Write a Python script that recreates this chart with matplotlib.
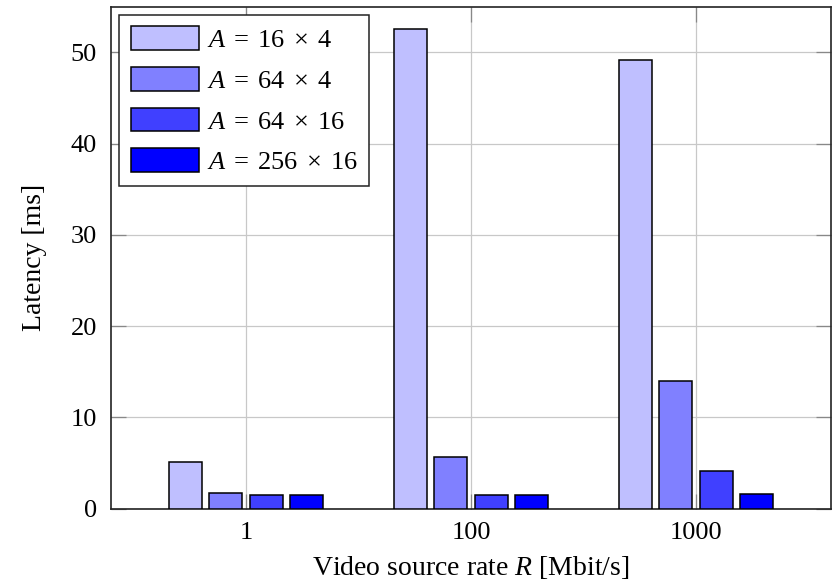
import numpy as np
import matplotlib
matplotlib.use("Agg")
import matplotlib.pyplot as plt

plt.rcParams['font.family'] = 'Liberation Serif'
plt.rcParams['mathtext.fontset'] = 'custom'
plt.rcParams['mathtext.rm'] = 'Liberation Serif'
plt.rcParams['mathtext.it'] = 'Liberation Serif:italic'

# source rates on the x axis
rates = ['1', '100', '1000']

# latency per array size, one list per series
series_labels = [r'$A \;=\; 16 \;\times\; 4\quad$', r'$A \;=\; 64 \;\times\; 4\quad$',
                 r'$A \;=\; 64 \;\times\; 16\quad$', r'$A \;=\; 256 \;\times\; 16\quad$']
lat_16x4 = [5.05, 52.5, 49.2]
lat_64x4 = [1.75, 5.6, 14.0]
lat_64x16 = [1.52, 1.52, 4.15]
lat_256x16 = [1.52, 1.5, 1.58]
latencies = [lat_16x4, lat_64x4, lat_64x16, lat_256x16]

colors = ['#bfbfff', '#8080ff', '#4040ff', '#0000ff']

fig = plt.figure(figsize=(8.37, 5.87), dpi=100)
ax = fig.add_axes([0.1326, 0.1337, 0.8602, 0.855])

x = np.arange(len(rates))
bar_w = 0.147
step = 0.18
offsets = (np.arange(4) - 1.5) * step

for i in range(4):
    ax.bar(x + offsets[i], latencies[i], width=bar_w, color=colors[i],
           edgecolor='black', linewidth=1.1, label=series_labels[i], zorder=3)

ax.set_xlim(-0.6, 2.6)
ax.set_ylim(0, 55)
ax.set_xticks(x)
ax.set_xticklabels(rates)
ax.set_yticks([0, 10, 20, 30, 40, 50])

ax.grid(True, color='#c8c8c8', linewidth=0.9, zorder=0)
ax.set_axisbelow(True)
ax.tick_params(direction='in', length=11, width=0.9, color='#888888',
               labelsize=19, top=True, right=True, pad=10)

for s in ax.spines.values():
    s.set_color('#222222')
    s.set_linewidth(1.2)

ax.set_xlabel(r'Video source rate $R$ [Mbit/s]', fontsize=20, labelpad=7)
ax.set_ylabel('Latency [ms]', fontsize=20, labelpad=17)

leg = ax.legend(loc='upper left', fontsize=19, handlelength=2.58,
                handleheight=1.0, handletextpad=0.3, labelspacing=0.56,
                borderpad=0.45, borderaxespad=0.3, fancybox=False,
                framealpha=1)
leg.get_frame().set_edgecolor('#222222')
leg.get_frame().set_linewidth(1.1)

fig.savefig('out.png', dpi=100)
